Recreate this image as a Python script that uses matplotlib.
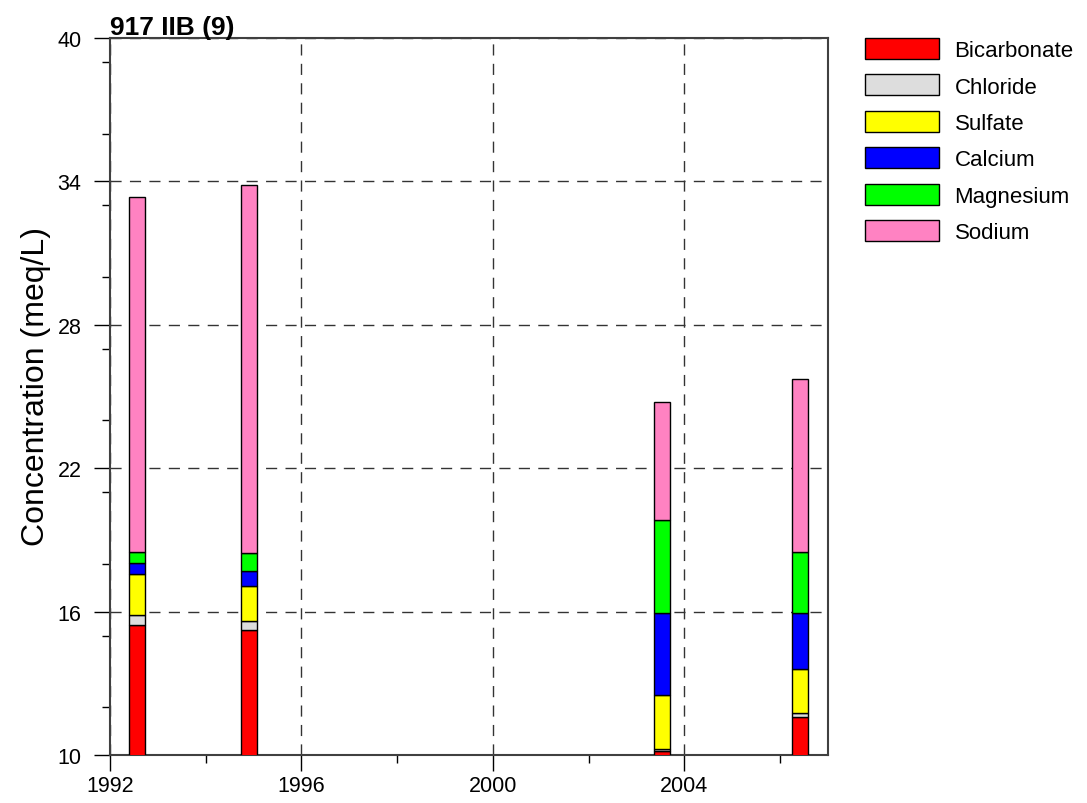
import matplotlib
matplotlib.use("Agg")
import matplotlib.pyplot as plt
from matplotlib.ticker import MultipleLocator

plt.rcParams["font.family"] = ["Liberation Sans", "DejaVu Sans"]
plt.rcParams["lines.scale_dashes"] = False

# sample dates (decimal years) and stacked ion concentrations (meq/L)
years = [1992.57, 1994.91, 2003.53, 2006.41]
ions = ["Bicarbonate", "Chloride", "Sulfate", "Calcium", "Magnesium", "Sodium"]
bicarbonate = [15.43, 15.22, 10.16, 11.61]
chloride = [0.43, 0.37, 0.10, 0.14]
sulfate = [1.70, 1.47, 2.23, 1.85]
calcium = [0.46, 0.65, 3.47, 2.33]
magnesium = [0.48, 0.74, 3.87, 2.55]
sodium = [14.86, 15.39, 4.94, 7.24]
colors = ["#FF0000", "#DDDDDD", "#FFFF00", "#0000FF", "#00FF00", "#FF82C2"]


def plot():
    """stacked bars of ion concentrations"""
    fig = plt.figure(figsize=(10.87, 8.04), dpi=100)
    ax = fig.add_axes([110 / 1087, 48 / 804, 718 / 1087, 717 / 804])

    series = [bicarbonate, chloride, sulfate, calcium, magnesium, sodium]
    bottom = [0.0] * len(years)
    for name, vals, col in zip(ions, series, colors):
        ax.bar(years, vals, bottom=bottom, width=0.33, color=col,
               edgecolor="black", linewidth=1.0, label=name, zorder=3)
        bottom = [b + v for b, v in zip(bottom, vals)]

    ax.set_xlim(1992, 2007)
    ax.set_ylim(10, 40)
    ax.set_xticks([1992, 1996, 2000, 2004])
    ax.set_yticks([10, 16, 22, 28, 34, 40])
    ax.xaxis.set_minor_locator(MultipleLocator(2))
    ax.yaxis.set_minor_locator(MultipleLocator(3))
    ax.tick_params(which="major", direction="out", length=11.5, width=1.0,
                   labelsize=15.5, color="black")
    ax.tick_params(which="minor", direction="out", length=5.8, width=1.0,
                   color="black")
    ax.tick_params(axis="y", which="major", pad=9)
    ax.tick_params(axis="x", which="major", pad=3)
    ax.grid(True, which="major", linestyle=(0, (8, 6)), color="#333333",
            linewidth=1.0, zorder=1)
    for sp in ax.spines.values():
        sp.set_color("#404040")
        sp.set_linewidth(1.5)

    ax.text(0, 1.006, "917 IIB (9)", transform=ax.transAxes, fontsize=19,
            fontweight="bold", ha="left", va="baseline")
    fig.text(36 / 1087, 1 - 387 / 804, "Concentration (meq/L)", rotation=90,
             fontsize=23, ha="center", va="center")

    ax.legend(loc="upper left", bbox_to_anchor=(865 / 1087, 1 - 39 / 804),
              bbox_transform=fig.transFigure, frameon=False, fontsize=16,
              handlelength=3.33, handleheight=1.08, handletextpad=0.7,
              labelspacing=0.6, borderpad=0, borderaxespad=0)

    fig.savefig("out.png", dpi=100)


def main():
    plot()


if __name__ == "__main__":
    main()
